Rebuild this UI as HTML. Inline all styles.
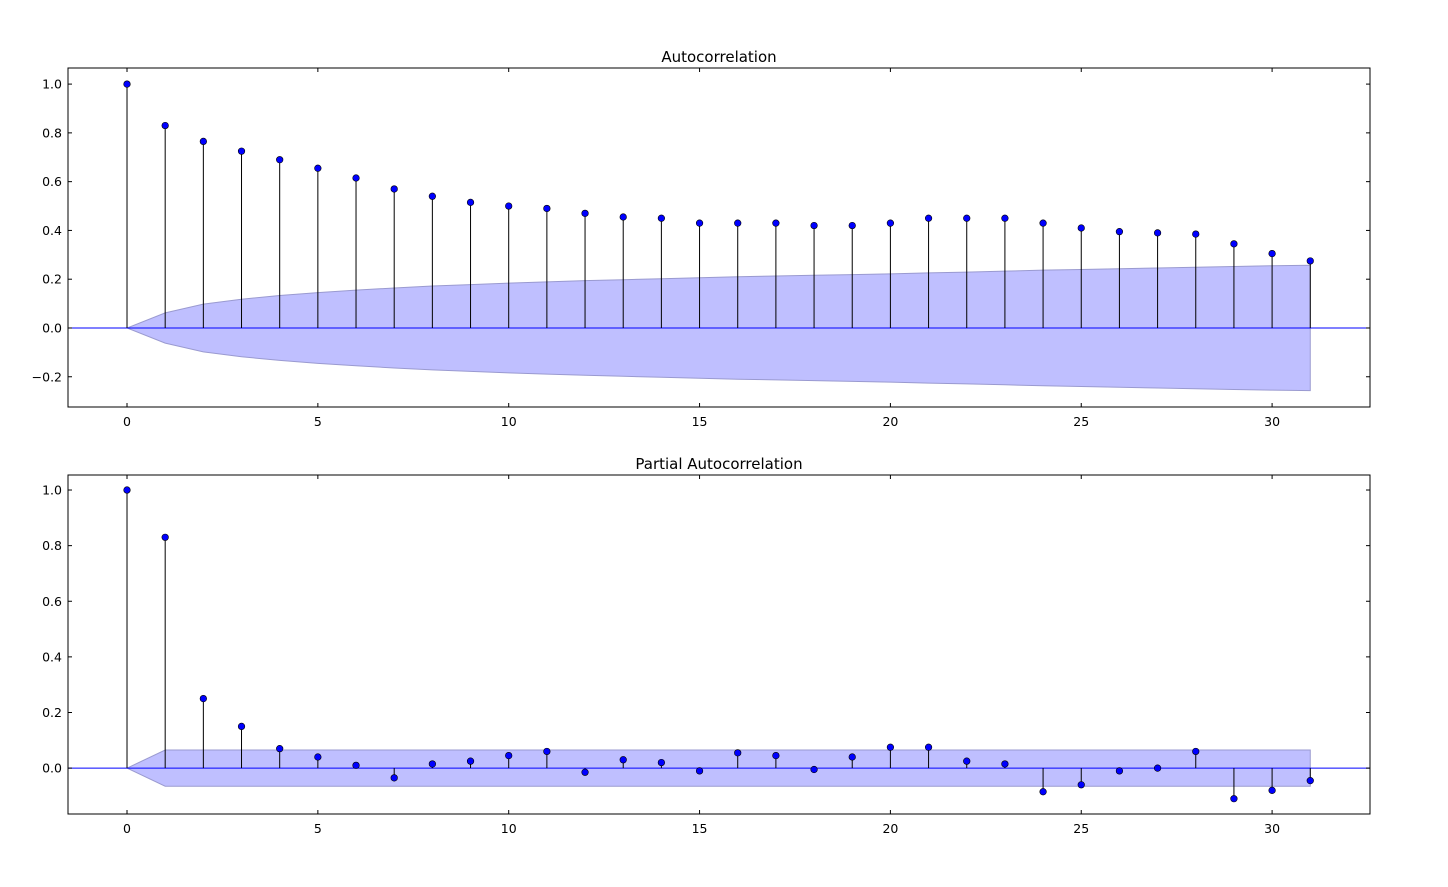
<!DOCTYPE html>
<html><head><meta charset="utf-8"><style>
body{margin:0;background:#fff;}
svg text{font-family:"DejaVu Sans","Liberation Sans",sans-serif;}
</style></head><body>
<svg id="chart" width="1448" height="882" xmlns="http://www.w3.org/2000/svg"></svg>
<script>
const lags = [0,1,2,3,4,5,6,7,8,9,10,11,12,13,14,15,16,17,18,19,20,21,22,23,24,25,26,27,28,29,30,31];
const acfValues = [1,0.83,0.765,0.725,0.69,0.655,0.615,0.57,0.54,0.515,0.5,0.49,0.47,0.455,0.45,0.43,0.43,0.43,0.42,0.42,0.43,0.45,0.45,0.45,0.43,0.41,0.395,0.39,0.385,0.345,0.305,0.275];
const acfConf = [0,0.062,0.098,0.118,0.133,0.145,0.155,0.164,0.172,0.178,0.184,0.189,0.194,0.198,0.202,0.206,0.21,0.213,0.216,0.219,0.222,0.226,0.229,0.233,0.237,0.24,0.243,0.246,0.249,0.252,0.255,0.257];
const pacfValues = [1,0.83,0.25,0.15,0.07,0.04,0.01,-0.035,0.015,0.025,0.045,0.06,-0.015,0.03,0.02,-0.01,0.055,0.045,-0.005,0.04,0.075,0.075,0.025,0.015,-0.085,-0.06,-0.01,0.0,0.06,-0.11,-0.08,-0.045];
const pacfConf = [0,0.065,0.065,0.065,0.065,0.065,0.065,0.065,0.065,0.065,0.065,0.065,0.065,0.065,0.065,0.065,0.065,0.065,0.065,0.065,0.065,0.065,0.065,0.065,0.065,0.065,0.065,0.065,0.065,0.065,0.065,0.065];
const xTicks = [0,5,10,15,20,25,30];
const acfYTicks = [-0.2,0.0,0.2,0.4,0.6,0.8,1.0];
const pacfYTicks = [0.0,0.2,0.4,0.6,0.8,1.0];

const NS="http://www.w3.org/2000/svg";
const svg=document.getElementById('chart');
function mk(tag,attrs,parent){const e=document.createElementNS(NS,tag);for(const k in attrs)e.setAttribute(k,attrs[k]);(parent||svg).appendChild(e);return e;}
function fmt(v){const s=v.toFixed(1);return v<0?'\u2212'+s.slice(1):s;}

function panel(name,title,box,ymin,ymax,vals,conf,yTicks){
  const g=mk('g',{});
  
  
  const xmin=-1.546,xmax=32.565;
  const X=v=>box.x+(v-xmin)/(xmax-xmin)*box.w;
  const Y=v=>box.y+(ymax-v)/(ymax-ymin)*box.h;
  let d='M'+X(lags[0])+','+Y(conf[0]);
  for(let i=1;i<lags.length;i++)d+=' L'+X(lags[i])+','+Y(conf[i]);
  for(let i=lags.length-1;i>=0;i--)d+=' L'+X(lags[i])+','+Y(-conf[i]);
  d+='Z';
  const band=mk('path',{d:d,fill:'#bfbfff',stroke:'#9a9ad0','stroke-width':1},g);
  
  
  const zl=mk('line',{x1:box.x,x2:box.x+box.w,y1:Y(0),y2:Y(0),stroke:'#0000ff','stroke-width':1},g);
  
  
  for(let i=0;i<lags.length;i++){
    const st=mk('line',{x1:X(lags[i]),x2:X(lags[i]),y1:Y(0),y2:Y(vals[i]),stroke:'#000','stroke-width':1},g);
    
    
    const c=mk('circle',{cx:X(lags[i]),cy:Y(vals[i]),r:3.3,fill:'#0000ff',stroke:'#000','stroke-width':0.6},g);
    
    
  }
  const fr=mk('rect',{x:box.x,y:box.y,width:box.w,height:box.h,fill:'none',stroke:'#000','stroke-width':1},g);
  
  
  xTicks.forEach(t=>{
    const x=X(t);
    mk('line',{x1:x,x2:x,y1:box.y+box.h,y2:box.y+box.h-4,stroke:'#000'},g);
    mk('line',{x1:x,x2:x,y1:box.y,y2:box.y+4,stroke:'#000'},g);
    const tx=mk('text',{x:x,y:box.y+box.h+19,'font-size':12.5,'text-anchor':'middle'},g);
    tx.textContent=t;
    
    
  });
  yTicks.forEach(t=>{
    const y=Y(t);
    mk('line',{x1:box.x,x2:box.x+4,y1:y,y2:y,stroke:'#000'},g);
    mk('line',{x1:box.x+box.w,x2:box.x+box.w-4,y1:y,y2:y,stroke:'#000'},g);
    const tx=mk('text',{x:box.x-6,y:y+4.5,'font-size':12.5,'text-anchor':'end'},g);
    tx.textContent=fmt(t);
    
    
  });
  const tt=mk('text',{x:box.x+box.w/2,y:box.y-6,'font-size':15,'text-anchor':'middle'},g);
  tt.textContent=title;
  
  
}
panel('acf','Autocorrelation',{x:68,y:68,w:1302,h:339},-0.324,1.066,acfValues,acfConf,acfYTicks);
panel('pacf','Partial Autocorrelation',{x:68,y:475,w:1302,h:339},-0.165,1.054,pacfValues,pacfConf,pacfYTicks);
</script>
</body></html>
